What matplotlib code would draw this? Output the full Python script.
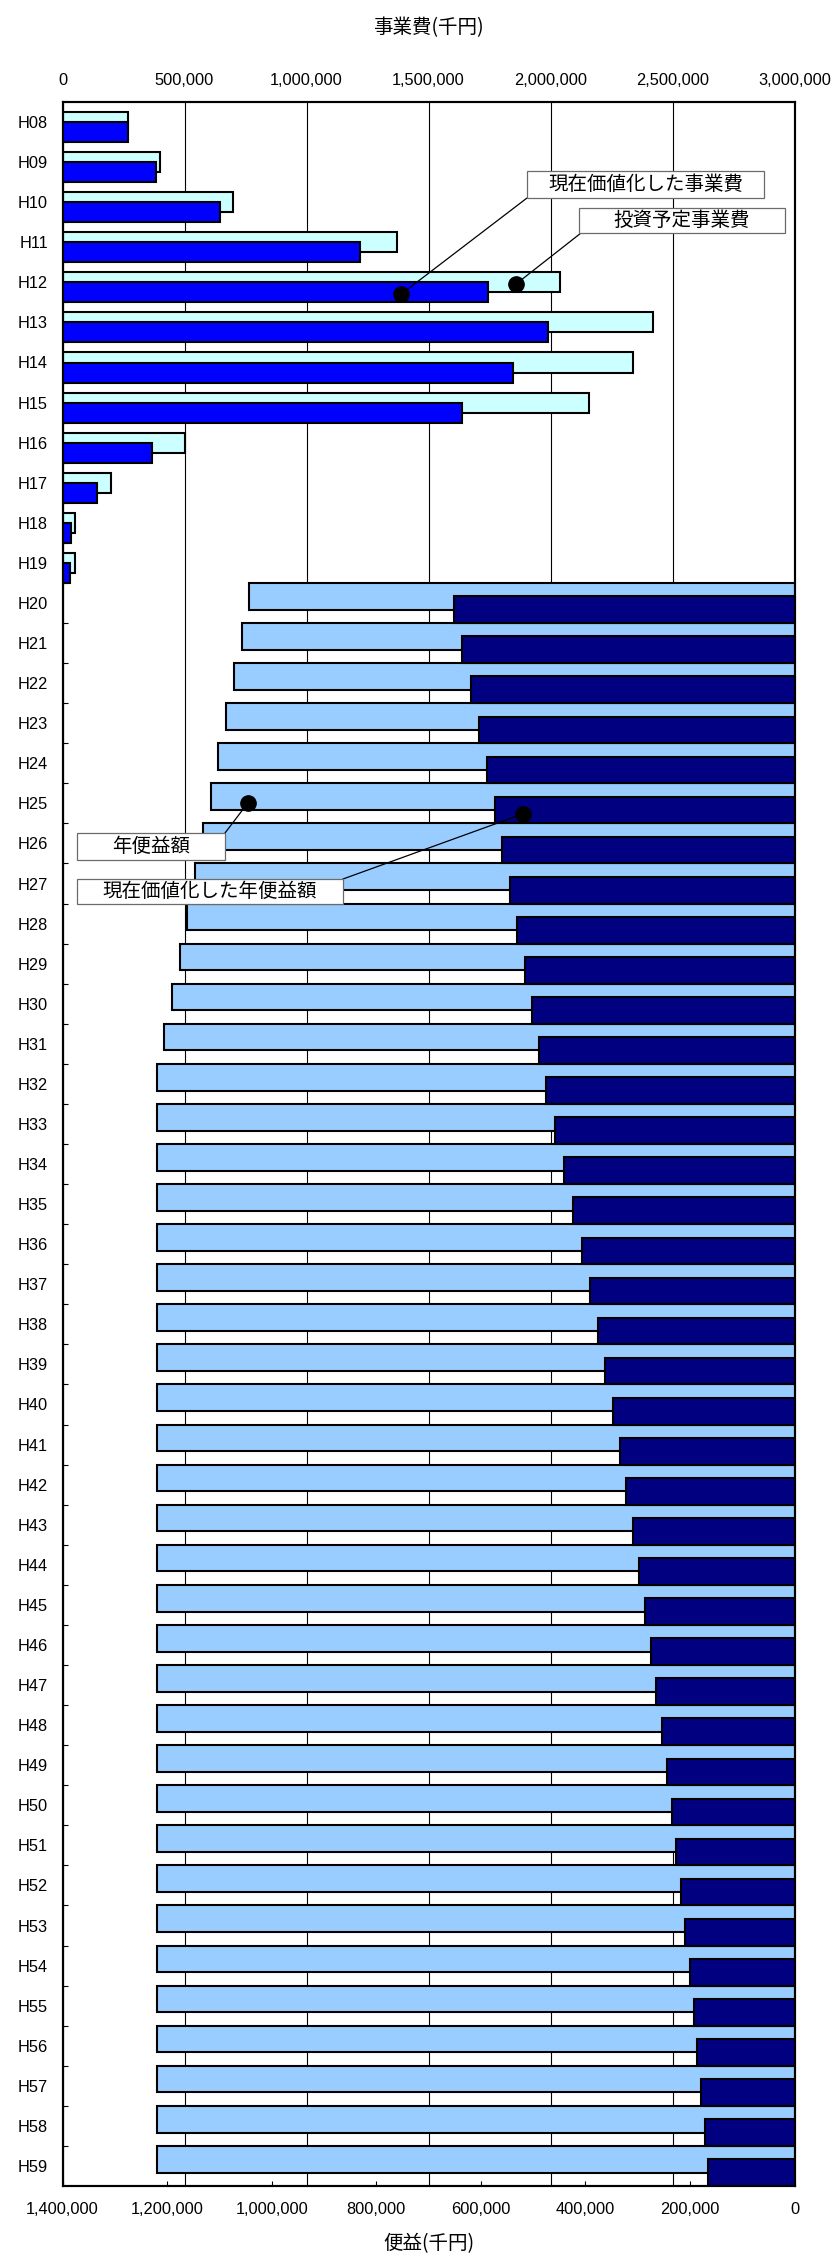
import matplotlib
matplotlib.use("Agg")
import matplotlib.pyplot as plt
from matplotlib.patches import Rectangle
from matplotlib.ticker import FixedLocator, FuncFormatter
import numpy as np

# ---------------- data ----------------
categories = ["H08", "H09", "H10", "H11", "H12", "H13", "H14", "H15", "H16", "H17",
              "H18", "H19", "H20", "H21", "H22", "H23", "H24", "H25", "H26", "H27",
              "H28", "H29", "H30", "H31", "H32", "H33", "H34", "H35", "H36", "H37",
              "H38", "H39", "H40", "H41", "H42", "H43", "H44", "H45", "H46", "H47",
              "H48", "H49", "H50", "H51", "H52", "H53", "H54", "H55", "H56", "H57",
              "H58", "H59"]

# 事業費 (千円): H08 - H19
cost_planned = [270000, 400000, 700000, 1370000, 2039000, 2420000, 2337000, 2157000,
                500000, 200000, 52000, 50000]
cost_present = [270000, 385000, 647000, 1218000, 1743000, 1989000, 1847000, 1639000,
                365000, 141000, 35000, 32000]

# 便益 (千円): H20 - H59
benefit_annual = [1042600, 1057400, 1072200, 1087000, 1101800, 1116600, 1131400, 1146200,
                  1161000, 1175800, 1190600, 1205400, 1220000, 1220000, 1220000, 1220000,
                  1220000, 1220000, 1220000, 1220000, 1220000, 1220000, 1220000, 1220000,
                  1220000, 1220000, 1220000, 1220000, 1220000, 1220000, 1220000, 1220000,
                  1220000, 1220000, 1220000, 1220000, 1220000, 1220000, 1220000, 1220000]
benefit_present = [651200, 635000, 619200, 603600, 588300, 573200, 558500, 544000,
                   529900, 516000, 502400, 489100, 476000, 457600, 440000, 423100,
                   406800, 391200, 376200, 361700, 347800, 334400, 321500, 309200,
                   297300, 285800, 274900, 264300, 254100, 244300, 234900, 225900,
                   217200, 208900, 200800, 193100, 185700, 178500, 171700, 165100]

cost_ticks = [0, 500000, 1000000, 1500000, 2000000, 2500000, 3000000]
benefit_ticks = [1400000, 1200000, 1000000, 800000, 600000, 400000, 200000, 0]

# ---------------- figure ----------------
W, H = 832, 2259
fig = plt.figure(figsize=(W / 100, H / 100), dpi=100)
plt.rcParams['font.family'] = ['Liberation Sans', 'DejaVu Sans']
CJK = ['Noto Sans CJK JP', 'DejaVu Sans']

def fx(px):
    return px / W

def fy(py):
    return 1 - py / H

left_px, right_px, top_px, bot_px = 62.5, 794.5, 102, 2186
ax = fig.add_axes([fx(left_px), fy(bot_px), (right_px - left_px) / W, (bot_px - top_px) / H])
ax_b = ax.twiny()

n = len(categories)
y = np.arange(n)
n_cost = len(cost_planned)
y_cost = y[:n_cost]
y_ben = y[n_cost:n_cost + len(benefit_annual)]

edge_lw = 1.5
# cost bars (top axis)
ax.barh(y_cost, cost_planned, height=0.5, color='#CCFFFF', edgecolor='black',
        linewidth=edge_lw, zorder=2)
ax.barh(y_cost + 0.25, cost_present, height=0.5, color='#0000FF', edgecolor='black',
        linewidth=edge_lw, zorder=3)

# benefit bars (bottom axis, reversed)
ax_b.barh(y_ben - 1 / 6, benefit_annual, height=2 / 3, color='#99CCFF', edgecolor='black',
          linewidth=edge_lw, zorder=2)
ax_b.barh(y_ben + 1 / 6, benefit_present, height=2 / 3, color='#000080', edgecolor='black',
          linewidth=edge_lw, zorder=3)

# axes setup
ax.set_xlim(0, 3000000)
ax_b.set_xlim(1400000, 0)
ax.set_ylim(n - 0.5, -0.5)

fmt = FuncFormatter(lambda v, p: f"{v:,.0f}")
ax.xaxis.tick_top()
ax.set_xticks(cost_ticks)
ax.xaxis.set_major_formatter(fmt)
ax.tick_params(axis='x', which='major', length=0, pad=10, labelsize=11.8)
ax.grid(axis='x', color='black', linewidth=0.8)
ax.set_axisbelow(True)

ax_b.xaxis.tick_bottom()
ax_b.set_xticks(benefit_ticks)
ax_b.xaxis.set_major_formatter(fmt)
ax_b.tick_params(axis='x', which='major', direction='in', length=3.6, width=0.8,
                 pad=11.5, labelsize=11.8)

ax.set_yticks(y)
ax.set_yticklabels(categories)
ax.tick_params(axis='y', which='major', length=0, pad=10.5, labelsize=11.8)
ax.yaxis.set_minor_locator(FixedLocator(np.arange(0.5, n - 1, 1.0)))
ax.tick_params(axis='y', which='minor', direction='in', length=3.6, width=0.8)

for a in (ax, ax_b):
    for s in a.spines.values():
        s.set_linewidth(1.5)
        s.set_color('black')

# axis titles
cx = fx((left_px + right_px) / 2)
fig.text(cx, fy(28), "事業費(千円)", ha='center', va='center', fontsize=14, family=CJK)
fig.text(cx, fy(2244), "便益(千円)", ha='center', va='center', fontsize=14, family=CJK)

# callouts
def callout(box, text, dot_ax, dot_xy, corner):
    x0, y0, x1, y1 = box
    rect = Rectangle((fx(x0), fy(y1)), (x1 - x0) / W, (y1 - y0) / H,
                     transform=fig.transFigure, facecolor='white', edgecolor='#6b6b6b',
                     linewidth=0.9, zorder=5)
    fig.add_artist(rect)
    fig.text(fx((x0 + x1) / 2), fy((y0 + y1) / 2), text, ha='center', va='center',
             fontsize=14, family=CJK, zorder=6)
    dot_ax.annotate('', xy=dot_xy, xycoords='data',
                    xytext=(fx(corner[0]), fy(corner[1])), textcoords='figure fraction',
                    arrowprops=dict(arrowstyle='-', color='black', lw=0.9,
                                    shrinkA=0, shrinkB=0), zorder=6)
    dot_ax.plot([dot_xy[0]], [dot_xy[1]], 'o', color='black', markersize=11, zorder=7,
                clip_on=False)

callout((527, 171, 764, 198), "現在価値化した事業費", ax, (1387000, 4.3), (527, 198))
callout((579, 208, 785, 233), "投資予定事業費", ax, (1857000, 4.05), (581, 233))
callout((77, 833, 225, 860), "年便益額", ax_b, (1046000, 17.0), (225, 833))
callout((77, 879, 343, 904), "現在価値化した年便益額", ax_b, (518700, 17.26), (343, 879))

fig.savefig("out.png", dpi=100)
